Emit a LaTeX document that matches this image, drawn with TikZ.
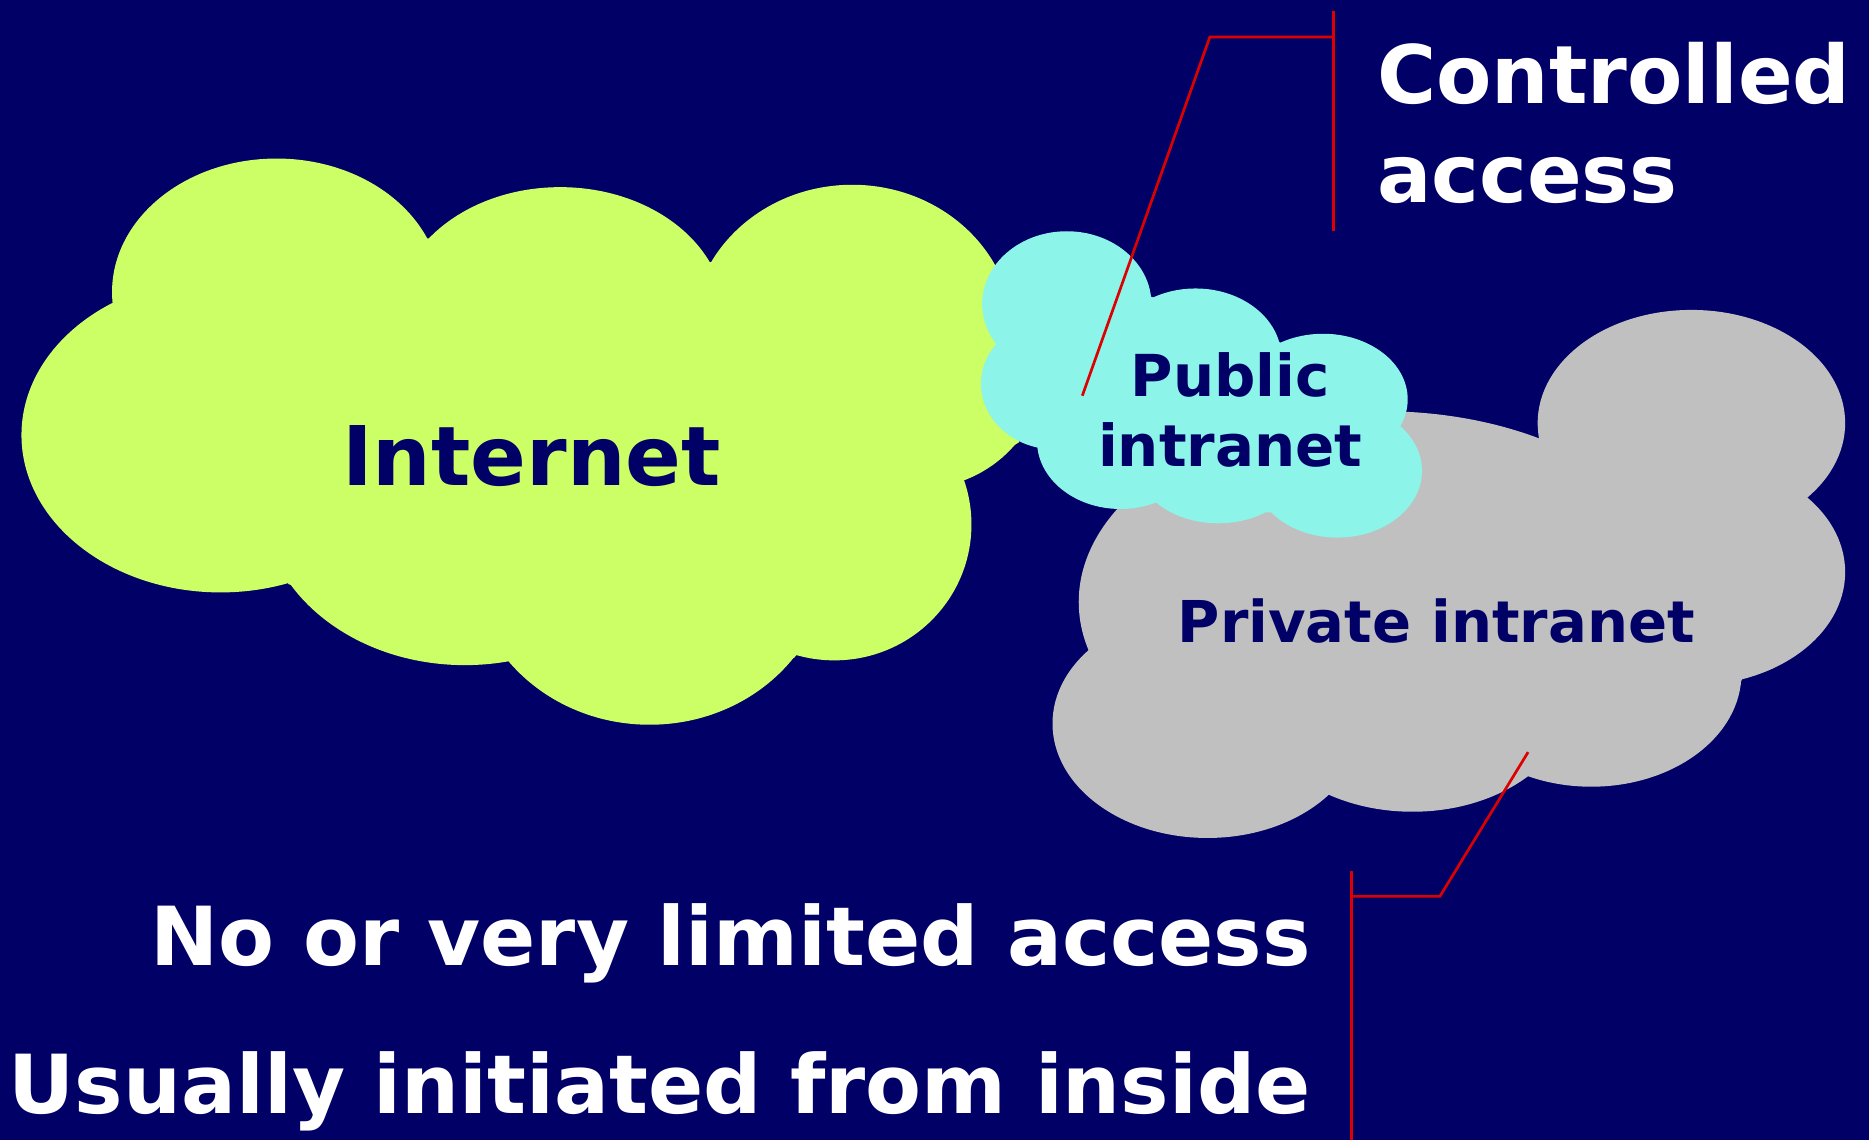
\documentclass[tikz,border=0pt]{standalone}
\usepackage{fontspec}
\setmainfont{DejaVu Sans}
\definecolor{bg}{RGB}{0,0,102}
\definecolor{netgreen}{RGB}{204,255,102}
\definecolor{pubcyan}{RGB}{140,244,232}
\definecolor{privgray}{RGB}{192,192,192}
\definecolor{callred}{RGB}{221,0,0}
\begin{document}
\begin{tikzpicture}[x=0.025cm,y=-0.025cm,
  cloudtext/.style={text=bg,inner sep=0pt,font=\bfseries},
  whitetext/.style={text=white,inner sep=0pt,font=\bfseries},
  callout/.style={draw=callred,line width=1.6pt}]
\fill[bg] (0,0) rectangle (1568,956);
\useasboundingbox (0,0) rectangle (1568,956);
% Internet cloud
\begin{scope}[fill=netgreen]
\fill (232,245) ellipse [x radius=138,y radius=112];
\fill (470,265) ellipse [x radius=138,y radius=108];
\fill (715,280) ellipse [x radius=135,y radius=125];
\fill (185,365) ellipse [x radius=167,y radius=132];
\fill (390,420) ellipse [x radius=170,y radius=138];
\fill (545,470) ellipse [x radius=150,y radius=138];
\fill (700,440) ellipse [x radius=115,y radius=114];
\fill (770,310) ellipse [x radius=105,y radius=100];
\fill (98,252) -- (359,200) -- (597,220) -- (828,212) -- (855,371) -- (804,402) -- (666,552) -- (427,554) -- (242,490) -- cycle;
\end{scope}
% Private intranet cloud
\begin{scope}[fill=privgray]
\fill (1419,355) ellipse [x radius=129,y radius=95];
\fill (1420,480) ellipse [x radius=128,y radius=95];
\fill (1335,565) ellipse [x radius=126,y radius=95];
\fill (1185,583) ellipse [x radius=135,y radius=98];
\fill (1013,607) ellipse [x radius=130,y radius=96];
\fill (1160,505) ellipse [x radius=255,y radius=160];
\fill (910,505) -- (1225,362) -- (1293,372) -- (1516,418) -- (1461,571) -- (1276,651) -- (1112,667) -- (916,544) -- cycle;
\end{scope}
% Public intranet cloud
\begin{scope}[fill=pubcyan]
\fill (895,255) ellipse [x radius=71,y radius=61];
\fill (1003,300) ellipse [x radius=72,y radius=58];
\fill (1110,335) ellipse [x radius=71,y radius=55];
\fill (1122,395) ellipse [x radius=71,y radius=56];
\fill (1022,390) ellipse [x radius=68,y radius=49];
\fill (940,370) ellipse [x radius=70,y radius=57];
\fill (885,322) ellipse [x radius=62,y radius=55];
\fill (841,286) -- (966,249) -- (1072,286) -- (1175,358) -- (1065,430) -- (974,422) -- (871,375) -- cycle;
\end{scope}
% cloud labels
\node[cloudtext,anchor=base,font=\bfseries\fontsize{49.1pt}{58pt}\selectfont] (internet) at (446,407) {Internet};
\node[cloudtext,anchor=base,font=\bfseries\fontsize{34.5pt}{41pt}\selectfont] (pub1) at (1032,333) {Public};
\node[cloudtext,anchor=base,font=\bfseries\fontsize{34.5pt}{41pt}\selectfont] (pub2) at (1032,391) {intranet};
\node[cloudtext,anchor=base,font=\bfseries\fontsize{34.4pt}{41pt}\selectfont] (private) at (1205,539) {Private intranet};
% white labels
\node[whitetext,anchor=base west,font=\bfseries\fontsize{48.1pt}{58pt}\selectfont] (ctrl1) at (1155,87) {Controlled};
\node[whitetext,anchor=base west,font=\bfseries\fontsize{48.1pt}{58pt}\selectfont] (ctrl2) at (1155,170) {access};
\node[whitetext,anchor=base east,font=\bfseries\fontsize{48.6pt}{58pt}\selectfont] (nolim) at (1100,810) {No or very limited access};
\node[whitetext,anchor=base east,font=\bfseries\fontsize{48.6pt}{58pt}\selectfont] (usually) at (1100,934) {Usually initiated from inside};
% callouts
\coordinate (u1) at (1119,9);
\coordinate (u2) at (1119,194);
\coordinate (uj) at (1119,31);
\coordinate (u3) at (1015,31);
\coordinate (u4) at (908,332);
\draw[callout] (u1) -- (u2);
\draw[callout] (uj) -- (u3) -- (u4);
\coordinate (l1) at (1134,731);
\coordinate (l2) at (1134,956);
\coordinate (lj) at (1134,752);
\coordinate (l3) at (1208,752);
\coordinate (l4) at (1282,631);
\draw[callout] (l1) -- (l2);
\draw[callout] (lj) -- (l3) -- (l4);
\end{tikzpicture}
\end{document}
